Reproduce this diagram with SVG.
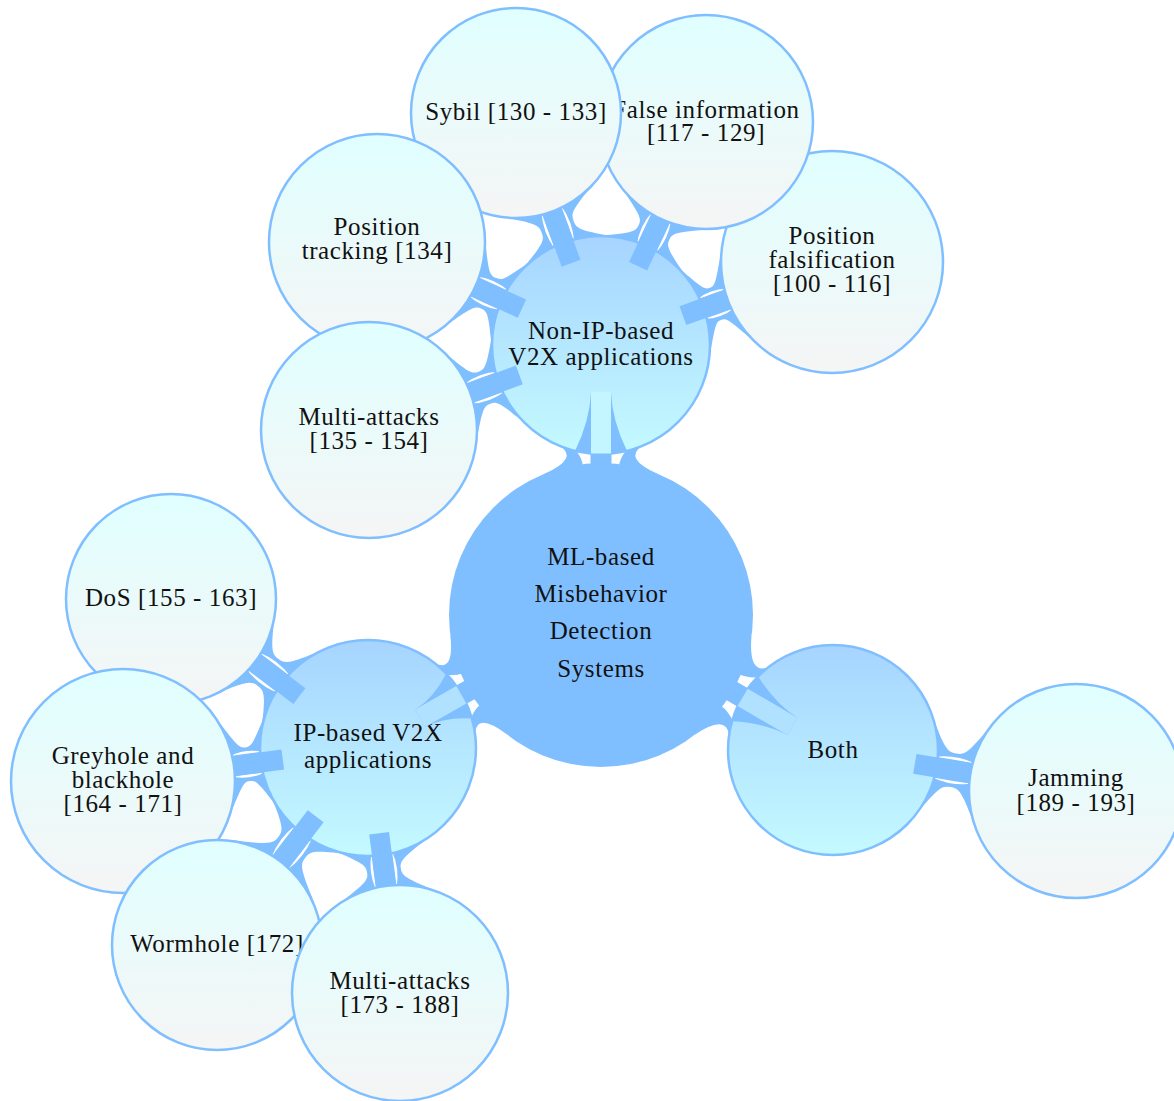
<svg xmlns="http://www.w3.org/2000/svg" width="1174" height="1101" viewBox="0 0 1174 1101">
  <defs>
    <linearGradient id="fillL1" x1="0" y1="0" x2="0" y2="1">
      <stop offset="0" stop-color="#a6d4ff"/>
      <stop offset="1" stop-color="#c4faff"/>
    </linearGradient>
    <linearGradient id="fillL2" x1="0" y1="0" x2="0" y2="1">
      <stop offset="0" stop-color="#e0ffff"/>
      <stop offset="1" stop-color="#f5f5f5"/>
    </linearGradient>
    <style>
      .neck { fill: #80bfff; }
      .lens { fill: #ffffff; }
      .bar { fill: #80bfff; }
      .root { fill: #80bfff; }
      .l1 { fill: url(#fillL1); stroke: #80bfff; stroke-width: 2.5; }
      .l2 { fill: url(#fillL2); stroke: #80bfff; stroke-width: 2.5; }
      .t { font-family: 'Liberation Serif', 'Times New Roman', serif; font-size: 25px; fill: #111111; text-anchor: middle; letter-spacing: 0.6px; }
    </style>
  </defs>

  <rect width="1174" height="1101" fill="#ffffff"/>

  <!-- connector underlay: flared necks and the white slivers beside each bar -->
  <g id="connectors">
    <!-- root to first-level branches -->
    <g transform="translate(601,615) rotate(-90)">
      <path class="neck" d="M140.9,57 Q156.5,22 169,40.9 L169,-40.9 Q156.5,-22 140.9,-57Z"/>
      <path class="lens" d="M149,10.5 L163,10.5 L164.5,25 Q157,19 149,18Z M149,-10.5 L163,-10.5 L164.5,-25 Q157,-19 149,-18Z"/>
    </g>
    <g transform="translate(601,615) rotate(150.28)">
      <path class="neck" d="M140.9,57 Q156.2,22 168.2,40.5 L168.2,-40.5 Q156.2,-22 140.9,-57Z"/>
      <path class="lens" d="M149,10.5 L162.3,10.5 L163.8,25 Q156.6,19 149,18Z M149,-10.5 L162.3,-10.5 L163.8,-25 Q156.6,-19 149,-18Z"/>
    </g>
    <g transform="translate(601,615) rotate(30.19)">
      <path class="neck" d="M140.9,57 Q157.7,22 171.1,39.4 L171.1,-39.4 Q157.7,-22 140.9,-57Z"/>
      <path class="lens" d="M149,10.5 L165.4,10.5 L166.9,25 Q158.2,19 149,18Z M149,-10.5 L165.4,-10.5 L166.9,-25 Q158.2,-19 149,-18Z"/>
    </g>

    <!-- Non-IP branch children -->
    <g transform="translate(601,345) rotate(-19.77)">
      <path class="neck" d="M94.4,54.5 C114.4,19.9 115.4,17 121.8,17 C128.2,17 129.4,20.9 149.4,55.5 L149.4,-55.5 C129.4,-20.9 128.2,-17 121.8,-17 C115.4,-17 114.4,-19.9 94.4,-54.5Z"/>
      <path class="lens" d="M106,10.3 Q121.8,16 137.5,10.3 Q121.8,10.6 106,10.3Z M106,-10.3 Q121.8,-16 137.5,-10.3 Q121.8,-10.6 106,-10.3Z"/>
    </g>
    <g transform="translate(601,345) rotate(-64.78)">
      <path class="neck" d="M94.4,54.5 C114.4,19.9 116.6,17 124.3,17 C131.9,17 133.8,18.9 153.8,53.5 L153.8,-53.5 C133.8,-18.9 131.9,-17 124.3,-17 C116.6,-17 114.4,-19.9 94.4,-54.5Z"/>
      <path class="lens" d="M106,10.3 Q124.3,16 142.5,10.3 Q124.3,10.6 106,10.3Z M106,-10.3 Q124.3,-16 142.5,-10.3 Q124.3,-10.6 106,-10.3Z"/>
    </g>
    <g transform="translate(601,345) rotate(-110.12)">
      <path class="neck" d="M94.4,54.5 C114.4,19.9 117.3,17 125.6,17 C133.9,17 136.2,17.9 156.2,52.5 L156.2,-52.5 C136.2,-17.9 133.9,-17 125.6,-17 C117.3,-17 114.4,-19.9 94.4,-54.5Z"/>
      <path class="lens" d="M106,10.3 Q125.6,16 145.1,10.3 Q125.6,10.6 106,10.3Z M106,-10.3 Q125.6,-16 145.1,-10.3 Q125.6,-10.6 106,-10.3Z"/>
    </g>
    <g transform="translate(601,345) rotate(-155.3)">
      <path class="neck" d="M94.4,54.5 C114.4,19.9 116.4,17 123.8,17 C131.1,17 133,19.4 153,54 L153,-54 C133,-19.4 131.1,-17 123.8,-17 C116.4,-17 114.4,-19.9 94.4,-54.5Z"/>
      <path class="lens" d="M106,10.3 Q123.8,16 141.5,10.3 Q123.8,10.6 106,10.3Z M106,-10.3 Q123.8,-16 141.5,-10.3 Q123.8,-10.6 106,-10.3Z"/>
    </g>
    <g transform="translate(601,345) rotate(159.88)">
      <path class="neck" d="M94.4,54.5 C114.4,19.9 116.5,17 124.1,17 C131.6,17 133.6,19.4 153.6,54 L153.6,-54 C133.6,-19.4 131.6,-17 124.1,-17 C116.5,-17 114.4,-19.9 94.4,-54.5Z"/>
      <path class="lens" d="M106,10.3 Q124.1,16 142.1,10.3 Q124.1,10.6 106,10.3Z M106,-10.3 Q124.1,-16 142.1,-10.3 Q124.1,-10.6 106,-10.3Z"/>
    </g>

    <!-- IP branch children -->
    <g transform="translate(368,748) rotate(-142.9)">
      <path class="neck" d="M93.5,54 C113.5,19.4 116.5,17 125,17 C133.5,17 136.1,17.9 156.1,52.5 L156.1,-52.5 C136.1,-17.9 133.5,-17 125,-17 C116.5,-17 113.5,-19.4 93.5,-54Z"/>
      <path class="lens" d="M105,10.3 Q125,16 145,10.3 Q125,10.6 105,10.3Z M105,-10.3 Q125,-16 145,-10.3 Q125,-10.6 105,-10.3Z"/>
    </g>
    <g transform="translate(368,748) rotate(172.33)">
      <path class="neck" d="M93.5,54 C113.5,19.4 114.8,17 121.6,17 C128.4,17 130.2,21.4 150.2,56 L150.2,-56 C130.2,-21.4 128.4,-17 121.6,-17 C114.8,-17 113.5,-19.4 93.5,-54Z"/>
      <path class="lens" d="M105,10.3 Q121.6,16 138.2,10.3 Q121.6,10.6 105,10.3Z M105,-10.3 Q121.6,-16 138.2,-10.3 Q121.6,-10.6 105,-10.3Z"/>
    </g>
    <g transform="translate(368,748) rotate(127.47)">
      <path class="neck" d="M93.5,54 C113.5,19.4 116.5,17 125,17 C133.5,17 136.1,17.9 156.1,52.5 L156.1,-52.5 C136.1,-17.9 133.5,-17 125,-17 C116.5,-17 113.5,-19.4 93.5,-54Z"/>
      <path class="lens" d="M105,10.3 Q125,16 145,10.3 Q125,10.6 105,10.3Z M105,-10.3 Q125,-16 145,-10.3 Q125,-10.6 105,-10.3Z"/>
    </g>
    <g transform="translate(368,748) rotate(82.56)">
      <path class="neck" d="M93.5,54 C113.5,19.4 115.8,17 123.6,17 C131.4,17 133.6,19.4 153.6,54 L153.6,-54 C133.6,-19.4 131.4,-17 123.6,-17 C115.8,-17 113.5,-19.4 93.5,-54Z"/>
      <path class="lens" d="M105,10.3 Q123.6,16 142.1,10.3 Q123.6,10.6 105,10.3Z M105,-10.3 Q123.6,-16 142.1,-10.3 Q123.6,-10.6 105,-10.3Z"/>
    </g>

    <!-- Both branch child -->
    <g transform="translate(833,750) rotate(9.58)">
      <path class="neck" d="M90.9,52.5 C110.9,17.9 113.6,17 122.2,17 C130.8,17 133.7,18.9 153.7,53.5 L153.7,-53.5 C133.7,-18.9 130.8,-17 122.2,-17 C113.6,-17 110.9,-17.9 90.9,-52.5Z"/>
      <path class="lens" d="M102,10.3 Q122.2,16 142.4,10.3 Q122.2,10.6 102,10.3Z M102,-10.3 Q122.2,-16 142.4,-10.3 Q122.2,-10.6 102,-10.3Z"/>
    </g>
  </g>

  <!-- root concept -->
  <g id="node-root">
    <circle class="root" cx="601" cy="615" r="152"/>
    <text class="t" x="601" y="565">ML-based</text>
    <text class="t" x="601" y="602">Misbehavior</text>
    <text class="t" x="601" y="639">Detection</text>
    <text class="t" x="601" y="677">Systems</text>
  </g>

  <!-- first-level concepts -->
  <g id="node-non-ip">
    <circle class="l1" cx="601" cy="345" r="109"/>
    <text class="t" x="601" y="339">Non-IP-based</text>
    <text class="t" x="601" y="365">V2X applications</text>
  </g>
  <g id="node-ip">
    <circle class="l1" cx="368" cy="748" r="108"/>
    <text class="t" x="368" y="741">IP-based V2X</text>
    <text class="t" x="368" y="768">applications</text>
  </g>
  <g id="node-both">
    <circle class="l1" cx="833" cy="750" r="105"/>
    <text class="t" x="833" y="758">Both</text>
  </g>

  <!-- connector bars: funnels into first-level concepts, bars toward second level -->
  <g id="connector-bars">
    <g transform="translate(601,615) rotate(-90)">
      <path class="bar" d="M164,-26 Q195,-11 223,-10 L223,10 Q195,11 164,26 L161.5,10 L161.5,-10Z"/>
      <rect x="161.5" y="-10" width="61.5" height="20" fill="#c4f6ff"/>
    </g>
    <g transform="translate(601,615) rotate(150.28)">
      <path class="bar" d="M163.3,-26 Q186,-11 208.3,-10 L208.3,10 Q186,11 163.3,26 L160.8,10 L160.8,-10Z"/>
      <rect x="160.8" y="-10" width="47.5" height="20" fill="#b0e1ff"/>
    </g>
    <g transform="translate(601,615) rotate(30.19)">
      <path class="bar" d="M166.6,-26 Q195,-11 221.4,-10 L221.4,10 Q195,11 166.6,26 L163.9,10 L163.9,-10Z"/>
      <rect x="163.9" y="-10" width="57.5" height="20" fill="#b0e1ff"/>
    </g>

    <rect class="bar" x="87" y="-10" width="50.5" height="20" transform="translate(601,345) rotate(-19.77)"/>
    <rect class="bar" x="87" y="-10" width="55.5" height="20" transform="translate(601,345) rotate(-64.78)"/>
    <rect class="bar" x="87" y="-10" width="58.1" height="20" transform="translate(601,345) rotate(-110.12)"/>
    <rect class="bar" x="87" y="-10" width="54.5" height="20" transform="translate(601,345) rotate(-155.3)"/>
    <rect class="bar" x="87" y="-10" width="55.1" height="20" transform="translate(601,345) rotate(159.88)"/>

    <rect class="bar" x="86" y="-10" width="59" height="20" transform="translate(368,748) rotate(-142.9)"/>
    <rect class="bar" x="86" y="-10" width="52.2" height="20" transform="translate(368,748) rotate(172.33)"/>
    <rect class="bar" x="86" y="-10" width="59" height="20" transform="translate(368,748) rotate(127.47)"/>
    <rect class="bar" x="86" y="-10" width="56.1" height="20" transform="translate(368,748) rotate(82.56)"/>

    <rect class="bar" x="83" y="-10" width="59.4" height="20" transform="translate(833,750) rotate(9.58)"/>
  </g>

  <!-- second-level concepts -->
  <g id="node-position-falsification">
    <circle class="l2" cx="832" cy="262" r="111"/>
    <text class="t" x="832" y="244">Position</text>
    <text class="t" x="832" y="268">falsification</text>
    <text class="t" x="832" y="292">[100 - 116]</text>
  </g>
  <g id="node-false-information">
    <circle class="l2" cx="706" cy="122" r="107"/>
    <text class="t" x="706" y="118">False information</text>
    <text class="t" x="706" y="141">[117 - 129]</text>
  </g>
  <g id="node-sybil">
    <circle class="l2" cx="516" cy="113" r="105"/>
    <text class="t" x="516" y="120">Sybil [130 - 133]</text>
  </g>
  <g id="node-position-tracking">
    <circle class="l2" cx="377" cy="242" r="108"/>
    <text class="t" x="377" y="235">Position</text>
    <text class="t" x="377" y="259">tracking [134]</text>
  </g>
  <g id="node-multi-attacks-non-ip">
    <circle class="l2" cx="369" cy="430" r="108"/>
    <text class="t" x="369" y="425">Multi-attacks</text>
    <text class="t" x="369" y="449">[135 - 154]</text>
  </g>
  <g id="node-dos">
    <circle class="l2" cx="171" cy="599" r="105"/>
    <text class="t" x="171" y="606">DoS [155 - 163]</text>
  </g>
  <g id="node-greyhole">
    <circle class="l2" cx="123" cy="781" r="112"/>
    <text class="t" x="123" y="764">Greyhole and</text>
    <text class="t" x="123" y="788">blackhole</text>
    <text class="t" x="123" y="812">[164 - 171]</text>
  </g>
  <g id="node-wormhole">
    <circle class="l2" cx="217" cy="945" r="105"/>
    <text class="t" x="217" y="952">Wormhole [172]</text>
  </g>
  <g id="node-multi-attacks-ip">
    <circle class="l2" cx="400" cy="993" r="108"/>
    <text class="t" x="400" y="989">Multi-attacks</text>
    <text class="t" x="400" y="1013">[173 - 188]</text>
  </g>
  <g id="node-jamming">
    <circle class="l2" cx="1076" cy="791" r="107"/>
    <text class="t" x="1076" y="786">Jamming</text>
    <text class="t" x="1076" y="811">[189 - 193]</text>
  </g>
</svg>
